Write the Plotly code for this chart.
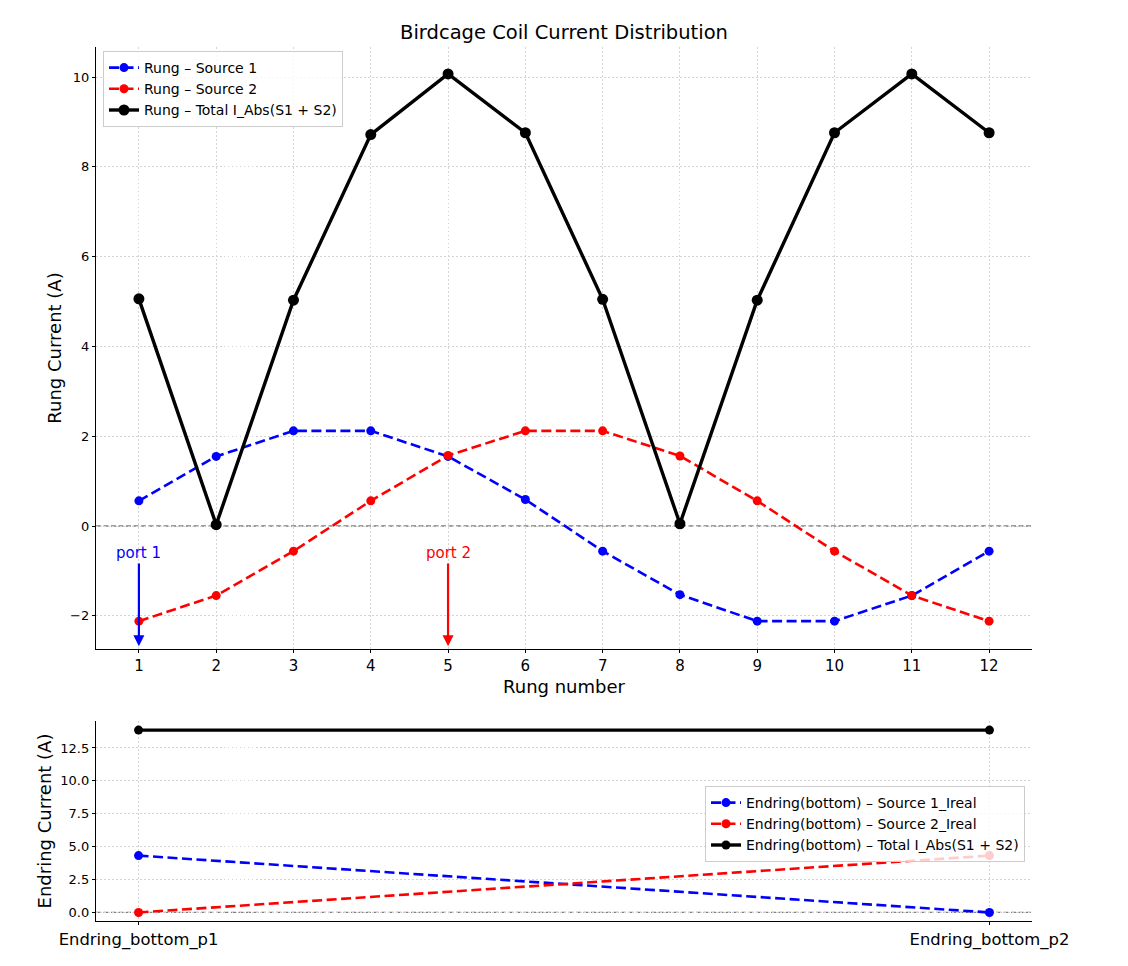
import plotly.graph_objects as go

rungs = list(range(1, 13))
rung_s1 = [0.56, 1.55, 2.12, 2.12, 1.55, 0.59, -0.56, -1.53, -2.12, -2.12, -1.55, -0.56]
rung_s2 = [-2.12, -1.55, -0.56, 0.56, 1.57, 2.12, 2.12, 1.56, 0.56, -0.56, -1.55, -2.12]
rung_total = [5.06, 0.03, 5.03, 8.72, 10.07, 8.76, 5.05, 0.05, 5.03, 8.76, 10.07, 8.76]

endring_labels = ["Endring_bottom_p1", "Endring_bottom_p2"]
end_s1 = [4.32, 0.0]
end_s2 = [0.0, 4.32]
end_total = [13.86, 13.86]

OFF = 8  # page body margin
W, H = 1128 - 2 * OFF, 966 - 2 * OFF
FONT = "DejaVu Sans"


def px(x):
    return (x - OFF) / W


def py(y):
    return 1 - (y - OFF) / H


L, R = px(96), px(1032)
top_dom = [py(649), py(47)]
bot_dom = [py(921), py(721)]

fig = go.Figure()

DASH = "10px,4.5px"


def add(x, y, name, color, dash, width, msize, xa, ya, legend):
    fig.add_trace(go.Scatter(
        x=x, y=y, name=name, mode="lines+markers",
        line=dict(color=color, dash=dash, width=width),
        marker=dict(color=color, size=msize),
        xaxis=xa, yaxis=ya, legend=legend))


add(rungs, rung_s1, "Rung – Source 1", "blue", DASH, 2.6, 9, "x", "y", "legend")
add(rungs, rung_s2, "Rung – Source 2", "red", DASH, 2.6, 9, "x", "y", "legend")
add(rungs, rung_total, "Rung – Total I_Abs(S1 + S2)", "black", "solid", 3.4, 11, "x", "y", "legend")

xi = [0, 1]
add(xi, end_s1, "Endring(bottom) – Source 1_Ireal", "blue", DASH, 2.6, 9, "x2", "y2", "legend2")
add(xi, end_s2, "Endring(bottom) – Source 2_Ireal", "red", DASH, 2.6, 9, "x2", "y2", "legend2")
add(xi, end_total, "Endring(bottom) – Total I_Abs(S1 + S2)", "black", "solid", 3.4, 9, "x2", "y2", "legend2")

axis_common = dict(
    showline=True, linecolor="black", linewidth=1.3, mirror=False,
    ticks="outside", ticklen=3, tickcolor="black", tickwidth=1,
    showgrid=True, gridcolor="#d4d4d4", griddash="1.5px,2.5px", gridwidth=1,
    zeroline=False, automargin=False,
    tickfont=dict(family=FONT, size=13, color="black"),
)

fig.update_layout(
    width=W, height=H,
    margin=dict(l=0, r=0, t=0, b=0),
    paper_bgcolor="white", plot_bgcolor="white",
    font=dict(family=FONT, color="black"),
    title=dict(text="Birdcage Coil Current Distribution", x=px(564), xanchor="center",
               y=py(32), yanchor="middle", font=dict(family=FONT, size=19.5, color="black")),
    xaxis=dict(axis_common, domain=[L, R], anchor="y", range=[0.445, 12.555],
               tickmode="array", tickvals=rungs, tickfont=dict(family=FONT, size=15, color="black"),
               title=dict(text="Rung number", font=dict(family=FONT, size=18), standoff=6)),
    yaxis=dict(axis_common, domain=top_dom, anchor="x", range=[-2.74, 10.67],
               tickmode="array", tickvals=[-2, 0, 2, 4, 6, 8, 10],
               title=dict(text="Rung Current (A)", font=dict(family=FONT, size=18), standoff=3)),
    xaxis2=dict(axis_common, domain=[L, R], anchor="y2", range=[-0.05, 1.05],
                tickmode="array", tickvals=xi, ticktext=endring_labels,
                tickfont=dict(family=FONT, size=16.4, color="black")),
    yaxis2=dict(axis_common, domain=bot_dom, anchor="x2", range=[-0.65, 14.55],
                tickmode="array", tickvals=[0, 2.5, 5, 7.5, 10, 12.5], tickformat=".1f",
                title=dict(text="Endring Current (A)", font=dict(family=FONT, size=18), standoff=3)),
    legend=dict(x=px(103), y=py(51), xanchor="left", yanchor="top",
                bgcolor="rgba(255,255,255,0.8)", bordercolor="#cccccc", borderwidth=1,
                font=dict(family=FONT, size=14, color="black"), tracegroupgap=0,
                itemwidth=30),
    legend2=dict(x=px(1025), y=py(786), xanchor="right", yanchor="top",
                 bgcolor="rgba(255,255,255,0.8)", bordercolor="#cccccc", borderwidth=1,
                 font=dict(family=FONT, size=14, color="black"), tracegroupgap=0,
                 itemwidth=30),
    showlegend=True,
)

# zero reference lines
fig.add_shape(type="line", xref="x domain", yref="y", x0=0, x1=1, y0=0, y1=0,
              line=dict(color="gray", dash="5px,2.5px", width=1.3), layer="below")
fig.add_shape(type="line", xref="x2 domain", yref="y2", x0=0, x1=1, y0=0, y1=0,
              line=dict(color="gray", dash="5px,2.5px", width=1.3), layer="below")

# port annotations
fig.add_annotation(x=1, y=-2.68, xref="x", yref="y", ax=1, ay=-0.6, axref="x", ayref="y",
                   text="port 1", showarrow=True, arrowhead=2, arrowsize=1, arrowwidth=2.2,
                   arrowcolor="blue", font=dict(family=FONT, size=15, color="blue"))
fig.add_annotation(x=5, y=-2.68, xref="x", yref="y", ax=5, ay=-0.6, axref="x", ayref="y",
                   text="port 2", showarrow=True, arrowhead=2, arrowsize=1, arrowwidth=2.2,
                   arrowcolor="red", font=dict(family=FONT, size=15, color="red"))

fig.write_html("out.html")
